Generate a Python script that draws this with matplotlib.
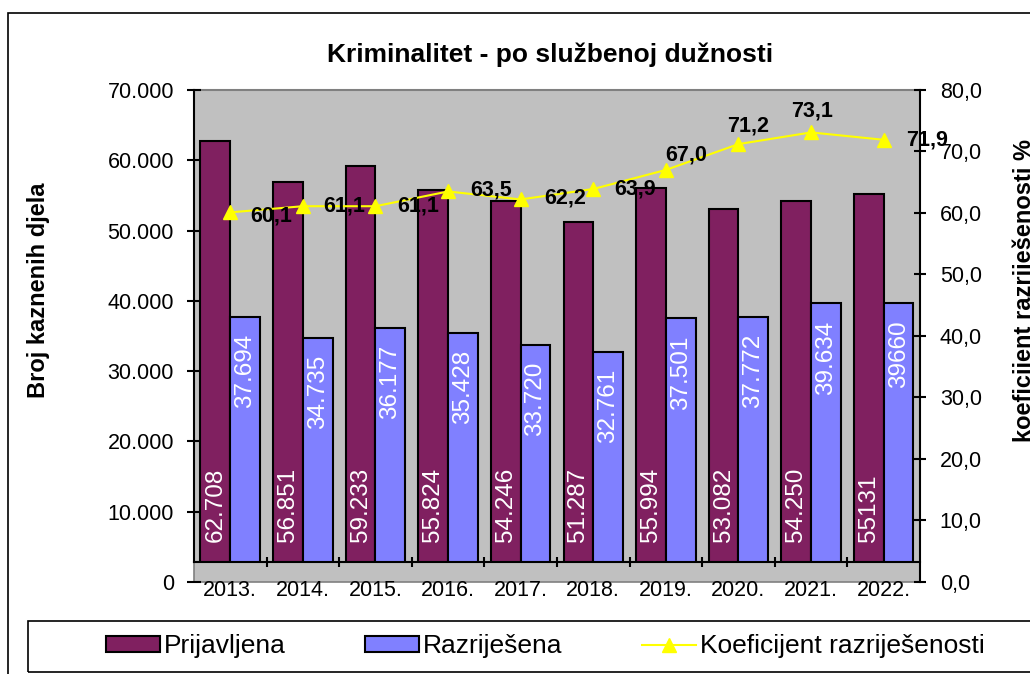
import matplotlib
matplotlib.use('Agg')
import matplotlib.pyplot as plt
from matplotlib.patches import Rectangle, Patch
from matplotlib.lines import Line2D
from matplotlib.ticker import FuncFormatter, MultipleLocator, FixedLocator
import numpy as np

plt.rcParams['font.family'] = ['Liberation Sans', 'DejaVu Sans']

# data
years = ['2013.', '2014.', '2015.', '2016.', '2017.', '2018.', '2019.', '2020.', '2021.', '2022.']
prijavljena = [62708, 56851, 59233, 55824, 54246, 51287, 55994, 53082, 54250, 55131]
razrijesena = [37694, 34735, 36177, 35428, 33720, 32761, 37501, 37772, 39634, 39660]
koeficijent = [60.1, 61.1, 61.1, 63.5, 62.2, 63.9, 67.0, 71.2, 73.1, 71.9]
prijavljena_labels = ['62.708', '56.851', '59.233', '55.824', '54.246', '51.287', '55.994', '53.082', '54.250', '55131']
razrijesena_labels = ['37.694', '34.735', '36.177', '35.428', '33.720', '32.761', '37.501', '37.772', '39.634', '39660']
koeficijent_labels = ['60,1', '61,1', '61,1', '63,5', '62,2', '63,9', '67,0', '71,2', '73,1', '71,9']

# label offsets for the line (pixels), as placed in the original
line_label_offsets = [(41, -4), (41, 0), (43, 0), (43, 1), (45, 1), (42, 0), (20, 15), (10, 18), (1, 21), (43, 0)]

MAROON = '#802060'
BLUE = '#8080FF'
YELLOW = '#FFFF00'
GRAY = '#C0C0C0'

fig = plt.figure(figsize=(10.3, 6.74), dpi=100)
ax = fig.add_axes([0.1883, 0.1365, 0.7049, 0.7300])
ax.set_facecolor(GRAY)

x = np.arange(len(years))
w = 0.41
ax.bar(x - w / 2, prijavljena, w, color=MAROON, edgecolor='black', linewidth=1.5, zorder=1.2)
ax.bar(x + w / 2, razrijesena, w, color=BLUE, edgecolor='black', linewidth=1.5, zorder=1.2)
ax.set_xlim(-0.5, len(years) - 0.5)
ax.set_ylim(0, 70000)

# pseudo 3D floor
floor = 20 / 492
ax.add_patch(Rectangle((0, 0), 1, floor, transform=ax.transAxes, facecolor=GRAY,
                       edgecolor='#808080', linewidth=1.2, zorder=1.4, clip_on=False))
ax.set_axisbelow(False)
ax.spines['bottom'].set_position(('axes', floor))
ax.spines['bottom'].set_linewidth(1.5)
ax.spines['left'].set_linewidth(1.5)
ax.spines['left'].set_bounds(floor * 70000, 70000)
ax.spines['top'].set_color('#808080')
ax.spines['top'].set_linewidth(1.5)
ax.spines['right'].set_visible(False)

ax.yaxis.set_major_locator(MultipleLocator(10000))
ax.yaxis.set_major_formatter(FuncFormatter(lambda v, p: f'{int(v):,}'.replace(',', '.')))
ax.tick_params(axis='y', direction='inout', length=10, width=1.5, labelsize=15.5, pad=9.4)
ax.set_xticks(x)
ax.set_xticklabels(years)
ax.xaxis.set_minor_locator(FixedLocator(x[:-1] + 0.5))
ax.tick_params(axis='x', which='major', length=0, labelsize=15.5, pad=13)
ax.tick_params(axis='x', which='minor', direction='inout', length=7, width=1.5)

for xi, v, lab in zip(x, prijavljena, prijavljena_labels):
    ax.annotate(lab, (xi - w / 2, 0), xytext=(0, 40), textcoords='offset pixels',
                rotation=90, ha='center', va='bottom', color='white', fontsize=17.5, zorder=3)
for xi, v, lab in zip(x, razrijesena, razrijesena_labels):
    ax.annotate(lab, (xi + w / 2, v), xytext=(0, -17), textcoords='offset pixels',
                rotation=90, ha='center', va='top', color='white', fontsize=17.5, zorder=3)

ax2 = ax.twinx()
ax2.set_ylim(0, 80)
ax2.plot(x, koeficijent, color=YELLOW, linewidth=1.5, marker='^', markersize=10,
         markerfacecolor=YELLOW, markeredgecolor=YELLOW)
for side in ['left', 'top', 'bottom']:
    ax2.spines[side].set_visible(False)
ax2.spines['right'].set_linewidth(1.5)
ax2.yaxis.set_major_locator(MultipleLocator(10))
ax2.yaxis.set_major_formatter(FuncFormatter(lambda v, p: f'{v:.1f}'.replace('.', ',')))
ax2.tick_params(axis='y', direction='inout', length=8.6, width=1.5, labelsize=15.5, pad=10)

for xi, v, lab, off in zip(x, koeficijent, koeficijent_labels, line_label_offsets):
    ax2.annotate(lab, (xi, v), xytext=off, textcoords='offset pixels', ha='center', va='center',
                 fontsize=15.5, fontweight='bold')

fig.text(550 / 1030, 1 - 55 / 674, 'Kriminalitet - po službenoj dužnosti', ha='center', va='center',
         fontsize=19, fontweight='bold')
fig.text(39 / 1030, 1 - 290 / 674, 'Broj kaznenih djela', rotation=90, ha='center', va='center',
         fontsize=17, fontweight='bold')
fig.text(1024 / 1030, 1 - 290 / 674, 'koeficijent razriješenosti %', rotation=90, ha='center', va='center',
         fontsize=17, fontweight='bold')

# outer chart frame and legend box (both cut by the image edge)
fig.add_artist(Rectangle((8 / 1030, -0.05), 1.1, 1 - 13 / 674 + 0.05, transform=fig.transFigure,
                         fill=False, edgecolor='black', linewidth=1.2))
fig.add_artist(Rectangle((28 / 1030, 1 - 672 / 674), 1.1, 51 / 674, transform=fig.transFigure,
                         fill=False, edgecolor='black', linewidth=1.2))

handles = [Patch(facecolor=MAROON, edgecolor='black', linewidth=1.5),
           Patch(facecolor=BLUE, edgecolor='black', linewidth=1.5),
           Line2D([], [], color=YELLOW, linewidth=1.5, marker='^', markersize=10)]
fig.legend(handles, ['Prijavljena', 'Razriješena', 'Koeficijent razriješenosti'],
           loc='center', bbox_to_anchor=(545 / 1030, 1 - 646.5 / 674), ncol=3, frameon=False,
           fontsize=19, handlelength=2.05, handleheight=0.55, handletextpad=0.15, columnspacing=3.0)

fig.savefig('out.png', dpi=100)
